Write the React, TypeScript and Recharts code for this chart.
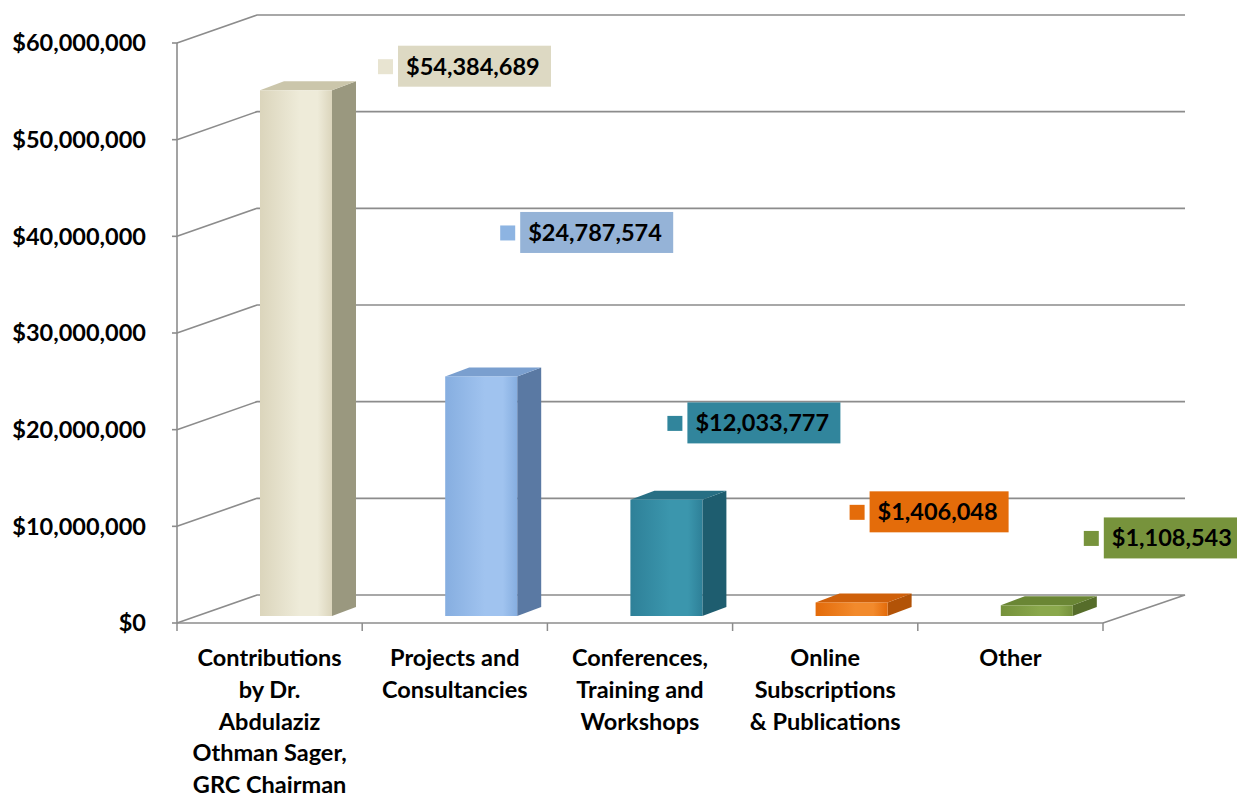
import { Bar, BarChart, CartesianGrid, LabelList, XAxis, YAxis } from 'recharts'

const categories = [
  'Contributions\nby Dr.\nAbdulaziz\nOthman Sager,\nGRC Chairman',
  'Projects and\nConsultancies',
  'Conferences,\nTraining and\nWorkshops',
  'Online\nSubscriptions\n& Publications',
  'Other',
]
const amounts = [54384689, 24787574, 12033777, 1406048, 1108543]
const yTicks = [0, 10000000, 20000000, 30000000, 40000000, 50000000, 60000000]

// colours per bar: front, highlight, side, top, label box, legend key
const frontColors = ['#dbd5bc', '#86aee0', '#2e8098', '#e36b0a', '#75913b']
const lightColors = ['#eeebd9', '#a0c3ef', '#3b96ad', '#f28a2c', '#8aa84c']
const sideColors = ['#9a987f', '#5a79a3', '#1e5d6f', '#b25307', '#566d2a']
const topColors = ['#cbc6ab', '#7a9fcf', '#276f84', '#cf600a', '#6a8634']
const boxColors = ['#ddd9c3', '#95b3d7', '#31859c', '#e46c0a', '#77933c']
const keyColors = ['#e8e4d1', '#8db4e2', '#31859c', '#e46c0a', '#77933c']

// manual label placement (as in the original): value level of label centre, x offset from bar
const labelLevels = [57600000, 40400000, 20700000, 11500000, 8800000]
const labelOffsets = [144, 81, 63, 60, 109]
const boxWidths = [153, 153, 153, 139, 140]

const W = 1237
const H = 798
const PLOT_W = 926
const BAND = PLOT_W / categories.length
const DEPTH_X = 80
const DEPTH_Y = 28
const FONT = 'Lato, "Open Sans", sans-serif'
const GRID = '#8c8c8c'

const data = categories.map((name, i) => ({ name, amount: amounts[i], idx: i }))

const money = (v: number) => '$' + v.toLocaleString('en-US')

const Bar3D = (props: any) => {
  const { x, y, width, height, payload } = props
  const i = payload.idx
  const bx = x + 26
  const by = y - 7
  const dx = 24
  const dy = 9
  const id = `grad${i}`
  return (
    <g>
      <defs>
        <linearGradient id={id} x1="0" y1="0" x2="1" y2="0">
          <stop offset="0" stopColor={frontColors[i]} />
          <stop offset="0.55" stopColor={lightColors[i]} />
          <stop offset="0.8" stopColor={lightColors[i]} />
          <stop offset="1" stopColor={frontColors[i]} />
        </linearGradient>
      </defs>
      <polygon
        points={`${bx + width},${by} ${bx + width + dx},${by - dy} ${bx + width + dx},${by + height - dy} ${bx + width},${by + height}`}
        fill={sideColors[i]}
      />
      <polygon
        points={`${bx},${by} ${bx + dx},${by - dy} ${bx + width + dx},${by - dy} ${bx + width},${by}`}
        fill={topColors[i]}
      />
      <rect x={bx} y={by} width={width} height={height} fill={`url(#${id})`} />
    </g>
  )
}

const ValueLabel = (props: any) => {
  const { x, y, width, height, value } = props
  const i = props.index ?? amounts.indexOf(value)
  const bottom = y + height
  const cy = bottom - (labelLevels[i] * height) / value
  const sx = x + labelOffsets[i]
  return (
    <g>
      <rect x={sx} y={cy - 7} width={15} height={15} fill={keyColors[i]} />
      <rect x={sx + 20} y={cy - 20.5} width={boxWidths[i]} height={41} fill={boxColors[i]} />
      <text
        x={sx + 28}
        y={cy + 8.5}
        fontFamily={FONT}
        fontWeight={700}
        fontSize={23.5}
        fill="#000"
      >
        {money(value)}
      </text>
    </g>
  )
}

const CategoryTick = (props: any) => {
  const { x, y, payload, index } = props
  const half = BAND / 2
  const lines = String(payload.value).split('\n')
  return (
    <g>
      <line x1={x - half} y1={y} x2={x - half} y2={y + 8} stroke={GRID} strokeWidth={1.5} />
      {index === categories.length - 1 && (
        <line x1={x + half} y1={y} x2={x + half} y2={y + 8} stroke={GRID} strokeWidth={1.5} />
      )}
      <text
        x={x}
        y={y + 43}
        textAnchor="middle"
        fontFamily={FONT}
        fontWeight={700}
        fontSize={23.5}
        fill="#000"
      >
        {lines.map((line, k) => (
          <tspan key={k} x={x} dy={k === 0 ? 0 : 31.8}>
            {line}
          </tspan>
        ))}
      </text>
    </g>
  )
}

const GridLine = (props: any) => {
  const { x1, y1, x2, y, height } = props
  const isFloor = Math.abs(y1 - (y + height)) < 1
  let d = `M${x1},${y1} L${x1 + DEPTH_X},${y1 - DEPTH_Y} L${x2 + DEPTH_X + 2},${y1 - DEPTH_Y}`
  if (isFloor) d += ` L${x2},${y1}`
  return <path key={props.key} d={d} fill="none" stroke={GRID} strokeWidth={1.6} />
}

export default function App() {
  return (
    <div style={{ position: 'absolute', left: 0, top: 0, background: '#fff' }}>
      <BarChart
        width={W}
        height={H}
        data={data}
        margin={{ top: 43, right: W - 177 - PLOT_W, bottom: 0, left: 0 }}
        barSize={72}
      >
        <CartesianGrid vertical={false} horizontal={GridLine} />
        <YAxis
          type="number"
          domain={[0, 60000000]}
          ticks={yTicks}
          width={177}
          tickSize={5}
          tickMargin={26}
          tickFormatter={money}
          axisLine={{ stroke: GRID, strokeWidth: 1.6 }}
          tickLine={{ stroke: GRID, strokeWidth: 1.6 }}
          tick={{ fill: '#000', fontSize: 23.5, fontWeight: 700, fontFamily: FONT }}
          interval={0}
        />
        <XAxis
          dataKey="name"
          height={175}
          interval={0}
          tickSize={0}
          tickMargin={0}
          tickLine={false}
          axisLine={{ stroke: GRID, strokeWidth: 1.6 }}
          tick={CategoryTick}
        />
        <Bar dataKey="amount" shape={Bar3D} isAnimationActive={false}>
          <LabelList dataKey="amount" content={ValueLabel} />
        </Bar>
      </BarChart>
    </div>
  )
}
